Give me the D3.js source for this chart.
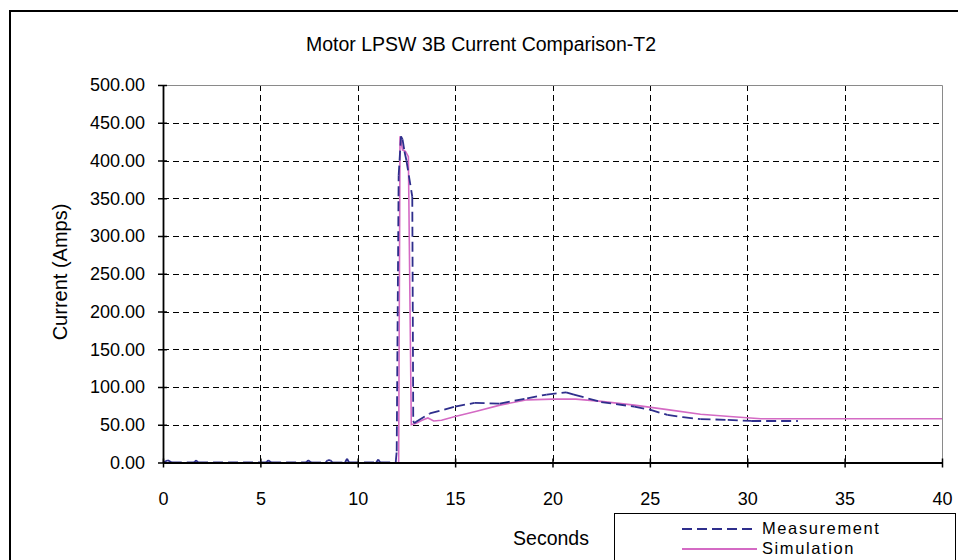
<!DOCTYPE html>
<html>
<head>
<meta charset="utf-8">
<script src="https://cdn.jsdelivr.net/npm/d3@7"></script>
<style>
  body { margin: 0; background: #fff; }
  svg { display: block; }
  text { font-family: "Liberation Sans", Arial, sans-serif; fill: #000; }
</style>
</head>
<body>
<div id="chart"></div>
<script>
const chartTitle = `Motor LPSW 3B Current Comparison-T2`;
const xLabel = `Seconds`;
const yLabel = `Current (Amps)`;
const seriesNames = [`Measurement`, `Simulation`];

const xTicks = [0, 5, 10, 15, 20, 25, 30, 35, 40];
const yTicks = [0, 50, 100, 150, 200, 250, 300, 350, 400, 450, 500];

// measured current (dashed navy)
const measTime = [0, 0.25, 0.45, 1.6, 1.7, 1.8, 5.3, 5.4, 5.55, 7.35, 7.45, 7.6, 8.35, 8.45, 8.6, 8.7,
  9.35, 9.45, 9.55, 10.95, 11.05, 11.15, 11.95, 12.0, 12.1, 12.22, 12.3, 12.4, 12.5, 12.8, 12.85,
  12.9, 13.0, 13.7, 15.0, 16.0, 17.3, 18.7, 19.7, 20.7, 21.1, 22.5, 24.2, 25.0, 25.9, 26.7,
  27.6, 29.0, 30.2, 32.6];
const measCurrent = [0, 3, 0, 0, 3, 0, 0, 3, 0, 0, 3, 0, 0, 3, 3, 0,
  0, 5, 0, 0, 4, 0, 0, 15, 380, 432, 428, 412, 400, 352, 55,
  52, 54, 65, 74, 79, 78, 85, 90, 93, 90, 80, 74, 70, 63, 60,
  57.5, 56.5, 55, 55];

// simulated current (solid pink)
const simTime = [12.1, 12.17, 12.3, 12.45, 12.6, 12.75, 13.0, 13.3, 13.6, 13.9, 14.3, 15.0, 16.1,
  17.3, 18.7, 20.0, 21.2, 22.5, 24.2, 25.9, 27.6, 29.1, 30.7, 32.7, 40];
const simCurrent = [0, 432, 414, 412, 405, 50, 52, 56, 59, 55, 56, 61, 68,
  76, 83, 84, 84, 81, 76, 70, 64, 61, 58, 58, 58];

const width = 958;
const height = 560;
const plot = {left: 163, right: 942, top: 85, bottom: 462.5};
const measColor = `#2e2e8c`;
const simColor = `#d46ac4`;

const svg = d3.select(`#chart`)
  .append(`svg`)
    .attr(`width`, width)
    .attr(`height`, height);

// chart frame, runs off the right and bottom of the picture
svg.append(`rect`)
  .attr(`x`, 10).attr(`y`, 11)
  .attr(`width`, 1000).attr(`height`, 600)
  .attr(`fill`, `#fff`)
  .attr(`stroke`, `#000`).attr(`stroke-width`, 2);

const x = d3.scaleLinear().domain([0, 40]).range([plot.left, plot.right]);
const y = d3.scaleLinear().domain([0, 500]).range([plot.bottom, plot.top]);

// gridlines
svg.append(`g`)
  .selectAll(`line`)
  .data(yTicks.slice(1, -1))
  .enter().append(`line`)
    .attr(`x1`, plot.left).attr(`x2`, plot.right)
    .attr(`y1`, d => Math.round(y(d)) + 0.5).attr(`y2`, d => Math.round(y(d)) + 0.5)
    .attr(`stroke`, `#000`).attr(`stroke-dasharray`, `6,4`);

svg.append(`g`)
  .selectAll(`line`)
  .data(xTicks.slice(1, -1))
  .enter().append(`line`)
    .attr(`x1`, d => Math.round(x(d)) + 0.5).attr(`x2`, d => Math.round(x(d)) + 0.5)
    .attr(`y1`, plot.top).attr(`y2`, plot.bottom)
    .attr(`stroke`, `#000`).attr(`stroke-dasharray`, `6,4`);

// plot area top/right edges
svg.append(`path`)
  .attr(`d`, `M${plot.left},${plot.top + 0.5}H${plot.right + 0.5}V${plot.bottom}`)
  .attr(`fill`, `none`).attr(`stroke`, `#8a8a8a`);

// series
const measPts = measTime.map((t, i) => [x(t), y(measCurrent[i])]);
const simPts = simTime.map((t, i) => [x(t), y(simCurrent[i])]);

svg.append(`path`)
  .datum(simPts)
  .attr(`d`, d3.line())
  .attr(`fill`, `none`)
  .attr(`stroke`, simColor).attr(`stroke-width`, 1.6);

// dash restarts on every segment, like the original plot
svg.append(`g`)
  .selectAll(`line`)
  .data(d3.pairs(measPts))
  .enter().append(`line`)
    .attr(`x1`, d => d[0][0]).attr(`y1`, d => d[0][1])
    .attr(`x2`, d => d[1][0]).attr(`y2`, d => d[1][1])
    .attr(`stroke`, measColor).attr(`stroke-width`, 1.8)
    .attr(`stroke-dasharray`, `10,5`);

// axes
const xAxis = svg.append(`g`)
  .attr(`transform`, `translate(0,${plot.bottom})`)
  .call(d3.axisBottom(x).tickValues(xTicks).tickSize(0).tickPadding(30));
xAxis.select(`.domain`).attr(`stroke-width`, 1.8);
xAxis.selectAll(`.tick line`).attr(`y1`, -4).attr(`y2`, 5).attr(`stroke-width`, 1.5);
xAxis.selectAll(`text`).attr(`font-size`, 18).attr(`font-family`, null);

const yAxis = svg.append(`g`)
  .attr(`transform`, `translate(${plot.left},0)`)
  .call(d3.axisLeft(y).tickValues(yTicks).tickFormat(d3.format(`.2f`)).tickSize(0).tickPadding(18));
yAxis.select(`.domain`).attr(`stroke-width`, 1.8);
yAxis.selectAll(`.tick line`).attr(`x1`, -5).attr(`x2`, 4).attr(`stroke-width`, 1.5);
yAxis.selectAll(`text`).attr(`font-size`, 18).attr(`font-family`, null);

// titles
svg.append(`text`)
  .attr(`x`, 481).attr(`y`, 51)
  .attr(`text-anchor`, `middle`).attr(`font-size`, 19.5)
  .text(chartTitle);

svg.append(`text`)
  .attr(`transform`, `translate(67,272) rotate(-90)`)
  .attr(`text-anchor`, `middle`).attr(`font-size`, 20)
  .text(yLabel);

svg.append(`text`)
  .attr(`x`, 551).attr(`y`, 545)
  .attr(`text-anchor`, `middle`).attr(`font-size`, 19.5)
  .text(xLabel);

// legend
const legend = svg.append(`g`);
legend.append(`rect`)
  .attr(`x`, 614.5).attr(`y`, 513.5)
  .attr(`width`, 341).attr(`height`, 80)
  .attr(`fill`, `#fff`).attr(`stroke`, `#000`);

const legendRows = [
  {name: seriesNames[0], color: measColor, dash: `10,5`, y: 529},
  {name: seriesNames[1], color: simColor, dash: null, y: 549},
];

legend.selectAll(`line`)
  .data(legendRows)
  .enter().append(`line`)
    .attr(`x1`, 682).attr(`x2`, 757)
    .attr(`y1`, d => d.y).attr(`y2`, d => d.y)
    .attr(`stroke`, d => d.color).attr(`stroke-width`, 1.8)
    .attr(`stroke-dasharray`, d => d.dash);

legend.selectAll(`text`)
  .data(legendRows)
  .enter().append(`text`)
    .attr(`x`, 762).attr(`y`, d => d.y + 5)
    .attr(`font-size`, 16.5)
    .attr(`letter-spacing`, 1.6)
    .text(d => d.name);
</script>
</body>
</html>
